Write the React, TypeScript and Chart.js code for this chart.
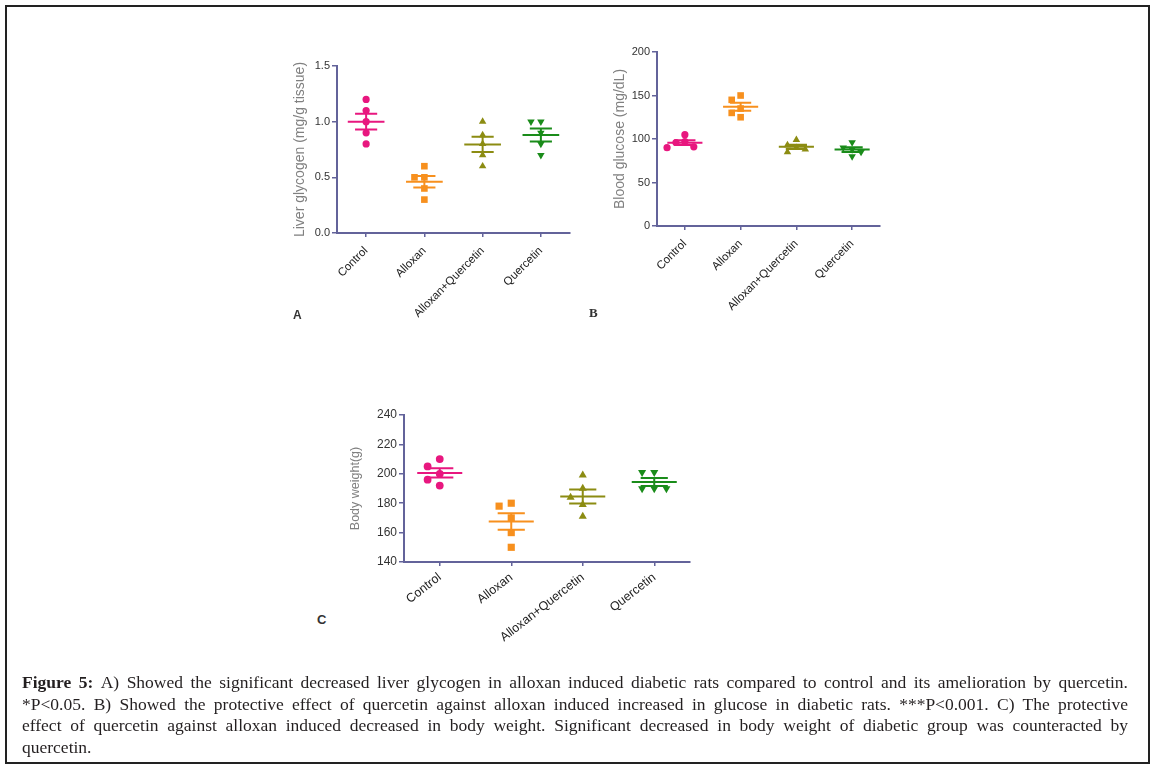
import React, { useEffect, useRef } from "react";
import { Chart, registerables } from "chart.js";

Chart.register(...registerables);

// ---------- data ----------
const categories = ["Control", "Alloxan", "Alloxan+Quercetin", "Quercetin"];

const glycogenControl = [1.2, 1.1, 1.0, 0.9, 0.8];
const glycogenAlloxan = [0.6, 0.5, 0.5, 0.4, 0.3];
const glycogenCombo = [1.0, 0.88, 0.8, 0.7, 0.6];
const glycogenQuercetin = [1.0, 1.0, 0.9, 0.8, 0.7];

const glucoseControl = [105, 97, 96, 91, 90];
const glucoseAlloxan = [150, 145, 135, 130, 125];
const glucoseCombo = [99, 93, 90, 88, 85];
const glucoseQuercetin = [96, 90, 88, 85, 80];

const weightControl = [210, 205, 200, 196, 192];
const weightAlloxan = [180, 178, 170, 160, 150];
const weightCombo = [199, 190, 184, 179, 171];
const weightQuercetin = [201, 201, 190, 190, 190];

const glycogenTicks = { min: 0, max: 1.5, step: 0.5, decimals: 1 };
const glucoseTicks = { min: 0, max: 200, step: 50, decimals: 0 };
const weightTicks = { min: 140, max: 240, step: 20, decimals: 0 };

const glycogenTitle = "Liver glycogen (mg/g tissue)";
const glucoseTitle = "Blood glucose (mg/dL)";
const weightTitle = "Body weight(g)";

const captionLines = [
  "A) Showed the significant decreased liver glycogen in alloxan induced diabetic rats compared to control and its amelioration by quercetin.",
  "*P<0.05. B) Showed the protective effect of quercetin against alloxan induced increased in glucose in diabetic rats. ***P<0.001. C) The protective",
  "effect of quercetin against alloxan induced decreased in body weight. Significant decreased in body weight of diabetic group was counteracted by",
  "quercetin.",
];

// ---------- styles ----------
const groupColors = ["#e8177f", "#f7901e", "#8c8c12", "#1a8c1a"];
const groupShapes = ["circle", "rect", "triangle", "triangle"];
const groupRotation = [0, 0, 0, 180];
const axisColor = "#63639a";
const FONT = "Liberation Sans, Arial, sans-serif";

// deterministic horizontal spreading of near-equal values (scatter dot plot)
function spread(values: number[], thr: number, step: number): number[] {
  const slots: { k: number; v: number }[] = [];
  const order = [0, -1, 1, -2, 2, -3, 3];
  return values.map((v) => {
    for (const k of order) {
      if (!slots.some((s) => s.k === k && Math.abs(s.v - v) < thr)) {
        slots.push({ k, v });
        return k * step;
      }
    }
    return 0;
  });
}

const meanSemPlugin = {
  id: "meanSem",
  afterDatasetsDraw(chart: any, _args: any, opts: any) {
    const ctx = chart.ctx;
    const xs = chart.scales.x;
    const ys = chart.scales.y;
    const catW = xs.getPixelForValue(1) - xs.getPixelForValue(0);
    chart.data.datasets.forEach((ds: any, gi: number) => {
      const vals = ds.data.map((p: any) => p.y);
      const n = vals.length;
      const mean = vals.reduce((a: number, b: number) => a + b, 0) / n;
      const sd = Math.sqrt(
        vals.reduce((a: number, b: number) => a + (b - mean) * (b - mean), 0) / (n - 1)
      );
      const sem = sd / Math.sqrt(n);
      const cx = xs.getPixelForValue(gi);
      const ym = ys.getPixelForValue(mean);
      const yt = ys.getPixelForValue(mean + sem);
      const yb = ys.getPixelForValue(mean - sem);
      const hm = (catW * opts.meanFrac) / 2;
      const hc = (catW * opts.capFrac) / 2;
      ctx.save();
      ctx.strokeStyle = ds.borderColor;
      ctx.lineWidth = 2;
      ctx.beginPath();
      ctx.moveTo(cx - hm, ym);
      ctx.lineTo(cx + hm, ym);
      ctx.moveTo(cx, yt);
      ctx.lineTo(cx, yb);
      ctx.moveTo(cx - hc, yt);
      ctx.lineTo(cx + hc, yt);
      ctx.moveTo(cx - hc, yb);
      ctx.lineTo(cx + hc, yb);
      ctx.stroke();
      ctx.restore();
    });
  },
};

type PanelDef = {
  groups: number[][];
  ticks: { min: number; max: number; step: number; decimals: number };
  title: string;
  left: number;
  top: number;
  width: number;
  height: number;
  padding: { left: number; top: number; right: number; bottom: number };
  yWidth: number;
  xHeight: number;
  rotation: number;
  labelPad: number;
  thr: number;
  step: number;
  radius: number;
  tickFont: number;
  labelFont: number;
  titleFont: number;
};

const panels: PanelDef[] = [
  {
    groups: [glycogenControl, glycogenAlloxan, glycogenCombo, glycogenQuercetin],
    ticks: glycogenTicks,
    title: glycogenTitle,
    left: 290, top: 40, width: 300, height: 300,
    padding: { left: 1.6, top: 26, right: 20, bottom: 0 },
    yWidth: 45.4, xHeight: 107, rotation: 45, labelPad: 7,
    thr: 0.06, step: 0.17, radius: 3.6, tickFont: 11, labelFont: 11.5, titleFont: 14,
  },
  {
    groups: [glucoseControl, glucoseAlloxan, glucoseCombo, glucoseQuercetin],
    ticks: glucoseTicks,
    title: glucoseTitle,
    left: 610, top: 30, width: 290, height: 300,
    padding: { left: 1.6, top: 22, right: 20, bottom: 0 },
    yWidth: 45.4, xHeight: 104, rotation: 45, labelPad: 7,
    thr: 8, step: 0.16, radius: 3.6, tickFont: 11, labelFont: 11.5, titleFont: 14,
  },
  {
    groups: [weightControl, weightAlloxan, weightCombo, weightQuercetin],
    ticks: weightTicks,
    title: weightTitle,
    left: 346, top: 395, width: 364, height: 280,
    padding: { left: 2.5, top: 20, right: 20, bottom: 0 },
    yWidth: 55.5, xHeight: 113, rotation: 38, labelPad: 4,
    thr: 6.5, step: 0.17, radius: 3.9, tickFont: 12, labelFont: 12.5, titleFont: 12.5,
  },
];

function buildConfig(p: PanelDef): any {
  const datasets = p.groups.map((vals, gi) => {
    const offs = spread(vals, p.thr, p.step);
    const shape = groupShapes[gi];
    const r = shape === "circle" ? p.radius : shape === "rect" ? p.radius * 1.3 : p.radius * 1.2;
    return {
      label: categories[gi],
      data: vals.map((v, j) => ({ x: gi + offs[j], y: v })),
      pointStyle: shape,
      pointRotation: groupRotation[gi],
      pointRadius: r,
      pointHoverRadius: r,
      pointBorderWidth: 0,
      backgroundColor: groupColors[gi],
      borderColor: groupColors[gi],
      showLine: false,
    };
  });
  return {
    type: "scatter",
    data: { datasets },
    options: {
      animation: false,
      responsive: false,
      maintainAspectRatio: false,
      layout: { padding: p.padding },
      plugins: {
        legend: { display: false },
        tooltip: { enabled: false },
        meanSem: { meanFrac: 0.63, capFrac: 0.38 },
      },
      scales: {
        x: {
          type: "linear",
          min: -0.5,
          max: 3.5,
          afterBuildTicks: (s: any) => {
            s.ticks = categories.map((_, i) => ({ value: i }));
          },
          afterFit: (s: any) => {
            s.height = p.xHeight;
          },
          ticks: {
            autoSkip: false,
            minRotation: p.rotation,
            maxRotation: p.rotation,
            padding: p.labelPad,
            color: "#222",
            font: { family: FONT, size: p.labelFont },
            callback: (v: any) => categories[Math.round(v)] ?? "",
          },
          grid: {
            drawOnChartArea: false,
            drawTicks: true,
            tickLength: 4,
            color: axisColor,
            lineWidth: 1.5,
          },
          border: { color: axisColor, width: 2 },
        },
        y: {
          min: p.ticks.min,
          max: p.ticks.max,
          afterFit: (s: any) => {
            s.width = p.yWidth;
          },
          ticks: {
            stepSize: p.ticks.step,
            padding: 2,
            color: "#333",
            font: { family: FONT, size: p.tickFont },
            callback: (v: any) => Number(v).toFixed(p.ticks.decimals),
          },
          title: {
            display: true,
            text: p.title,
            color: "#808080",
            padding: 0,
            font: { family: FONT, size: p.titleFont },
          },
          grid: {
            drawOnChartArea: false,
            drawTicks: true,
            tickLength: 5,
            color: axisColor,
            lineWidth: 1.5,
          },
          border: { color: axisColor, width: 2 },
        },
      },
    },
    plugins: [meanSemPlugin],
  };
}

function Panel({ def }: { def: PanelDef }) {
  const ref = useRef<HTMLCanvasElement>(null);
  useEffect(() => {
    const chart = new Chart(ref.current as HTMLCanvasElement, buildConfig(def));
    return () => chart.destroy();
  }, [def]);
  return (
    <canvas
      ref={ref}
      width={def.width}
      height={def.height}
      style={{ position: "absolute", left: def.left, top: def.top, width: def.width, height: def.height }}
    />
  );
}

const letterStyle: React.CSSProperties = {
  position: "absolute",
  fontWeight: "bold",
  color: "#333",
  lineHeight: 1,
};

export default function App() {
  return (
    <div style={{ position: "absolute", left: 0, top: 0, width: 1154, height: 770, background: "#fff", overflow: "hidden" }}>
      <div
        style={{
          position: "absolute",
          left: 5,
          top: 5,
          width: 1145,
          height: 759,
          border: "2px solid #222",
          boxSizing: "border-box",
        }}
      />
      {panels.map((p, i) => (
        <Panel key={i} def={p} />
      ))}
      <div style={{ ...letterStyle, left: 293, top: 309, fontSize: 12, fontFamily: FONT }}>A</div>
      <div style={{ ...letterStyle, left: 589, top: 306, fontSize: 13, fontFamily: "Liberation Serif, serif" }}>B</div>
      <div style={{ ...letterStyle, left: 317, top: 613, fontSize: 13, fontFamily: FONT }}>C</div>
      <div
        style={{
          position: "absolute",
          left: 22,
          top: 672,
          width: 1106,
          fontFamily: "Liberation Serif, 'Times New Roman', serif",
          fontSize: 17.5,
          lineHeight: "21.5px",
          color: "#231f20",
        }}
      >
        {captionLines.map((line, i) => (
          <div
            key={i}
            style={{
              textAlign: i < captionLines.length - 1 ? "justify" : "left",
              textAlignLast: i < captionLines.length - 1 ? "justify" : "left",
            }}
          >
            {i === 0 ? (
              <>
                <b>Figure 5: </b>
                {line}
              </>
            ) : (
              line
            )}
          </div>
        ))}
      </div>
    </div>
  );
}
